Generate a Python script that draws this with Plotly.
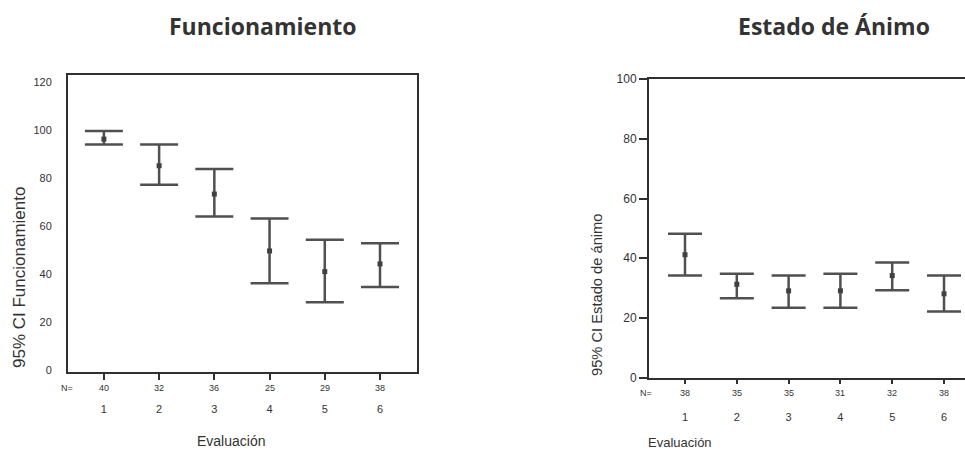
import plotly.graph_objects as go

W, H = 965, 452

# Evaluation points
evaluacion = [1, 2, 3, 4, 5, 6]

# Funcionamiento: mean and 95% CI
func_n = [40, 32, 36, 25, 29, 38]
func_mean = [96.2, 85.1, 73.3, 49.6, 41.0, 44.2]
func_upper = [99.6, 93.9, 83.7, 63.1, 54.3, 52.8]
func_lower = [93.9, 77.2, 63.9, 36.1, 28.2, 34.6]

# Estado de ánimo: mean and 95% CI
animo_n = [38, 35, 35, 31, 32, 38]
animo_mean = [41.2, 31.3, 29.1, 29.1, 34.2, 28.1]
animo_upper = [48.2, 34.8, 34.2, 34.8, 38.6, 34.2]
animo_lower = [34.2, 26.6, 23.4, 23.4, 29.3, 22.2]

func_ticks = [0, 20, 40, 60, 80, 100, 120]
animo_ticks = [0, 20, 40, 60, 80, 100]

BAR = "#505050"
AXIS = "#303030"
TXT = "#333333"
SANS = "Liberation Sans, Arial, sans-serif"
NARROW = "Liberation Sans Narrow, Liberation Sans, Arial, sans-serif"


def px_x(p):
    return p / W


def px_y(p):
    return (H - p) / H


def ci_trace(means, upper, lower, xa, ya, cap):
    return go.Scatter(
        x=evaluacion, y=means, xaxis=xa, yaxis=ya, mode="markers",
        marker=dict(symbol="square", size=5, color="#404040"),
        error_y=dict(
            type="data", symmetric=False,
            array=[u - m for u, m in zip(upper, means)],
            arrayminus=[m - l for m, l in zip(means, lower)],
            color=BAR, thickness=2.5, width=cap,
        ),
        showlegend=False, hoverinfo="skip",
    )


fig = go.Figure()
fig.add_trace(ci_trace(func_mean, func_upper, func_lower, "x", "y", 19))
fig.add_trace(ci_trace(animo_mean, animo_upper, animo_lower, "x2", "y2", 17))

# Left panel: full box
fig.update_layout(
    xaxis=dict(
        domain=[px_x(68), px_x(417)], range=[0.35, 6.67],
        tickvals=evaluacion, ticktext=[str(v) for v in evaluacion],
        ticks="outside", ticklen=6, tickwidth=2, tickcolor=AXIS,
        ticklabelstandoff=20,
        tickfont=dict(family=SANS, size=11, color=TXT),
        showline=True, linewidth=2, linecolor=AXIS, mirror=True,
        showgrid=False, zeroline=False, fixedrange=True,
    ),
    yaxis=dict(
        domain=[px_y(372), px_y(75)], range=[-0.83, 122.9],
        tickvals=func_ticks, ticks="", ticklabelstandoff=12,
        tickfont=dict(family=NARROW, size=11, color=TXT),
        showline=True, linewidth=2, linecolor=AXIS, mirror=True,
        showgrid=False, zeroline=False, fixedrange=True,
    ),
    # Right panel: open on the right side
    xaxis2=dict(
        domain=[px_x(649), 1.0], range=[0.305, 6.405], anchor="y2",
        tickvals=evaluacion, ticktext=[str(v) for v in evaluacion],
        ticks="outside", ticklen=4, tickwidth=2, tickcolor=AXIS,
        ticklabelstandoff=24,
        tickfont=dict(family=SANS, size=11, color=TXT),
        showline=True, linewidth=2, linecolor=AXIS, mirror=True,
        showgrid=False, zeroline=False, fixedrange=True,
    ),
    yaxis2=dict(
        domain=[px_y(378), px_y(79)], range=[-0.1, 100.05], anchor="x2",
        tickvals=animo_ticks, ticks="outside", ticklen=8, tickwidth=2,
        tickcolor=AXIS,
        tickfont=dict(family=SANS, size=12, color=TXT),
        showline=True, linewidth=2, linecolor=AXIS, mirror=False,
        showgrid=False, zeroline=False, fixedrange=True,
    ),
)

ann = []
# Panel titles
ann.append(dict(text="<b>Funcionamiento</b>", x=px_x(262), y=px_y(26),
                font=dict(family="Open Sans, sans-serif", size=23, color=TXT)))
ann.append(dict(text="<b>Estado de Ánimo</b>", x=px_x(834), y=px_y(26),
                font=dict(family="Open Sans, sans-serif", size=23, color=TXT)))
# Axis titles
ann.append(dict(text="95% CI Funcionamiento", x=px_x(19), y=px_y(278),
                textangle=-90, font=dict(family=SANS, size=17, color=TXT)))
ann.append(dict(text="95% CI Estado de ánimo", x=px_x(597), y=px_y(295),
                textangle=-90, font=dict(family=SANS, size=14.7, color=TXT)))
ann.append(dict(text="Evaluación", x=px_x(231), y=px_y(441),
                font=dict(family=SANS, size=14, color=TXT)))
ann.append(dict(text="Evaluación", x=px_x(680), y=px_y(442),
                font=dict(family=SANS, size=13, color=TXT)))
# Sample sizes
ann.append(dict(text="N=", x=px_x(67), y=px_y(388),
                font=dict(family=NARROW, size=9, color=TXT)))
ann.append(dict(text="N=", x=px_x(646), y=px_y(393),
                font=dict(family=NARROW, size=9, color=TXT)))
for a in ann:
    a.update(xref="paper", yref="paper", showarrow=False,
             xanchor="center", yanchor="middle")

for xv, n in zip(evaluacion, func_n):
    ann.append(dict(text=str(n), x=xv, xref="x", y=px_y(388), yref="paper",
                    showarrow=False, xanchor="center", yanchor="middle",
                    font=dict(family=NARROW, size=9, color=TXT)))
for xv, n in zip(evaluacion, animo_n):
    ann.append(dict(text=str(n), x=xv, xref="x2", y=px_y(393), yref="paper",
                    showarrow=False, xanchor="center", yanchor="middle",
                    font=dict(family=NARROW, size=9, color=TXT)))

fig.update_layout(
    template="none",
    annotations=ann,
    width=W, height=H,
    margin=dict(l=0, r=0, t=0, b=0),
    paper_bgcolor="white", plot_bgcolor="white",
    showlegend=False,
)

fig.write_html("out.html", config={"displayModeBar": False})
